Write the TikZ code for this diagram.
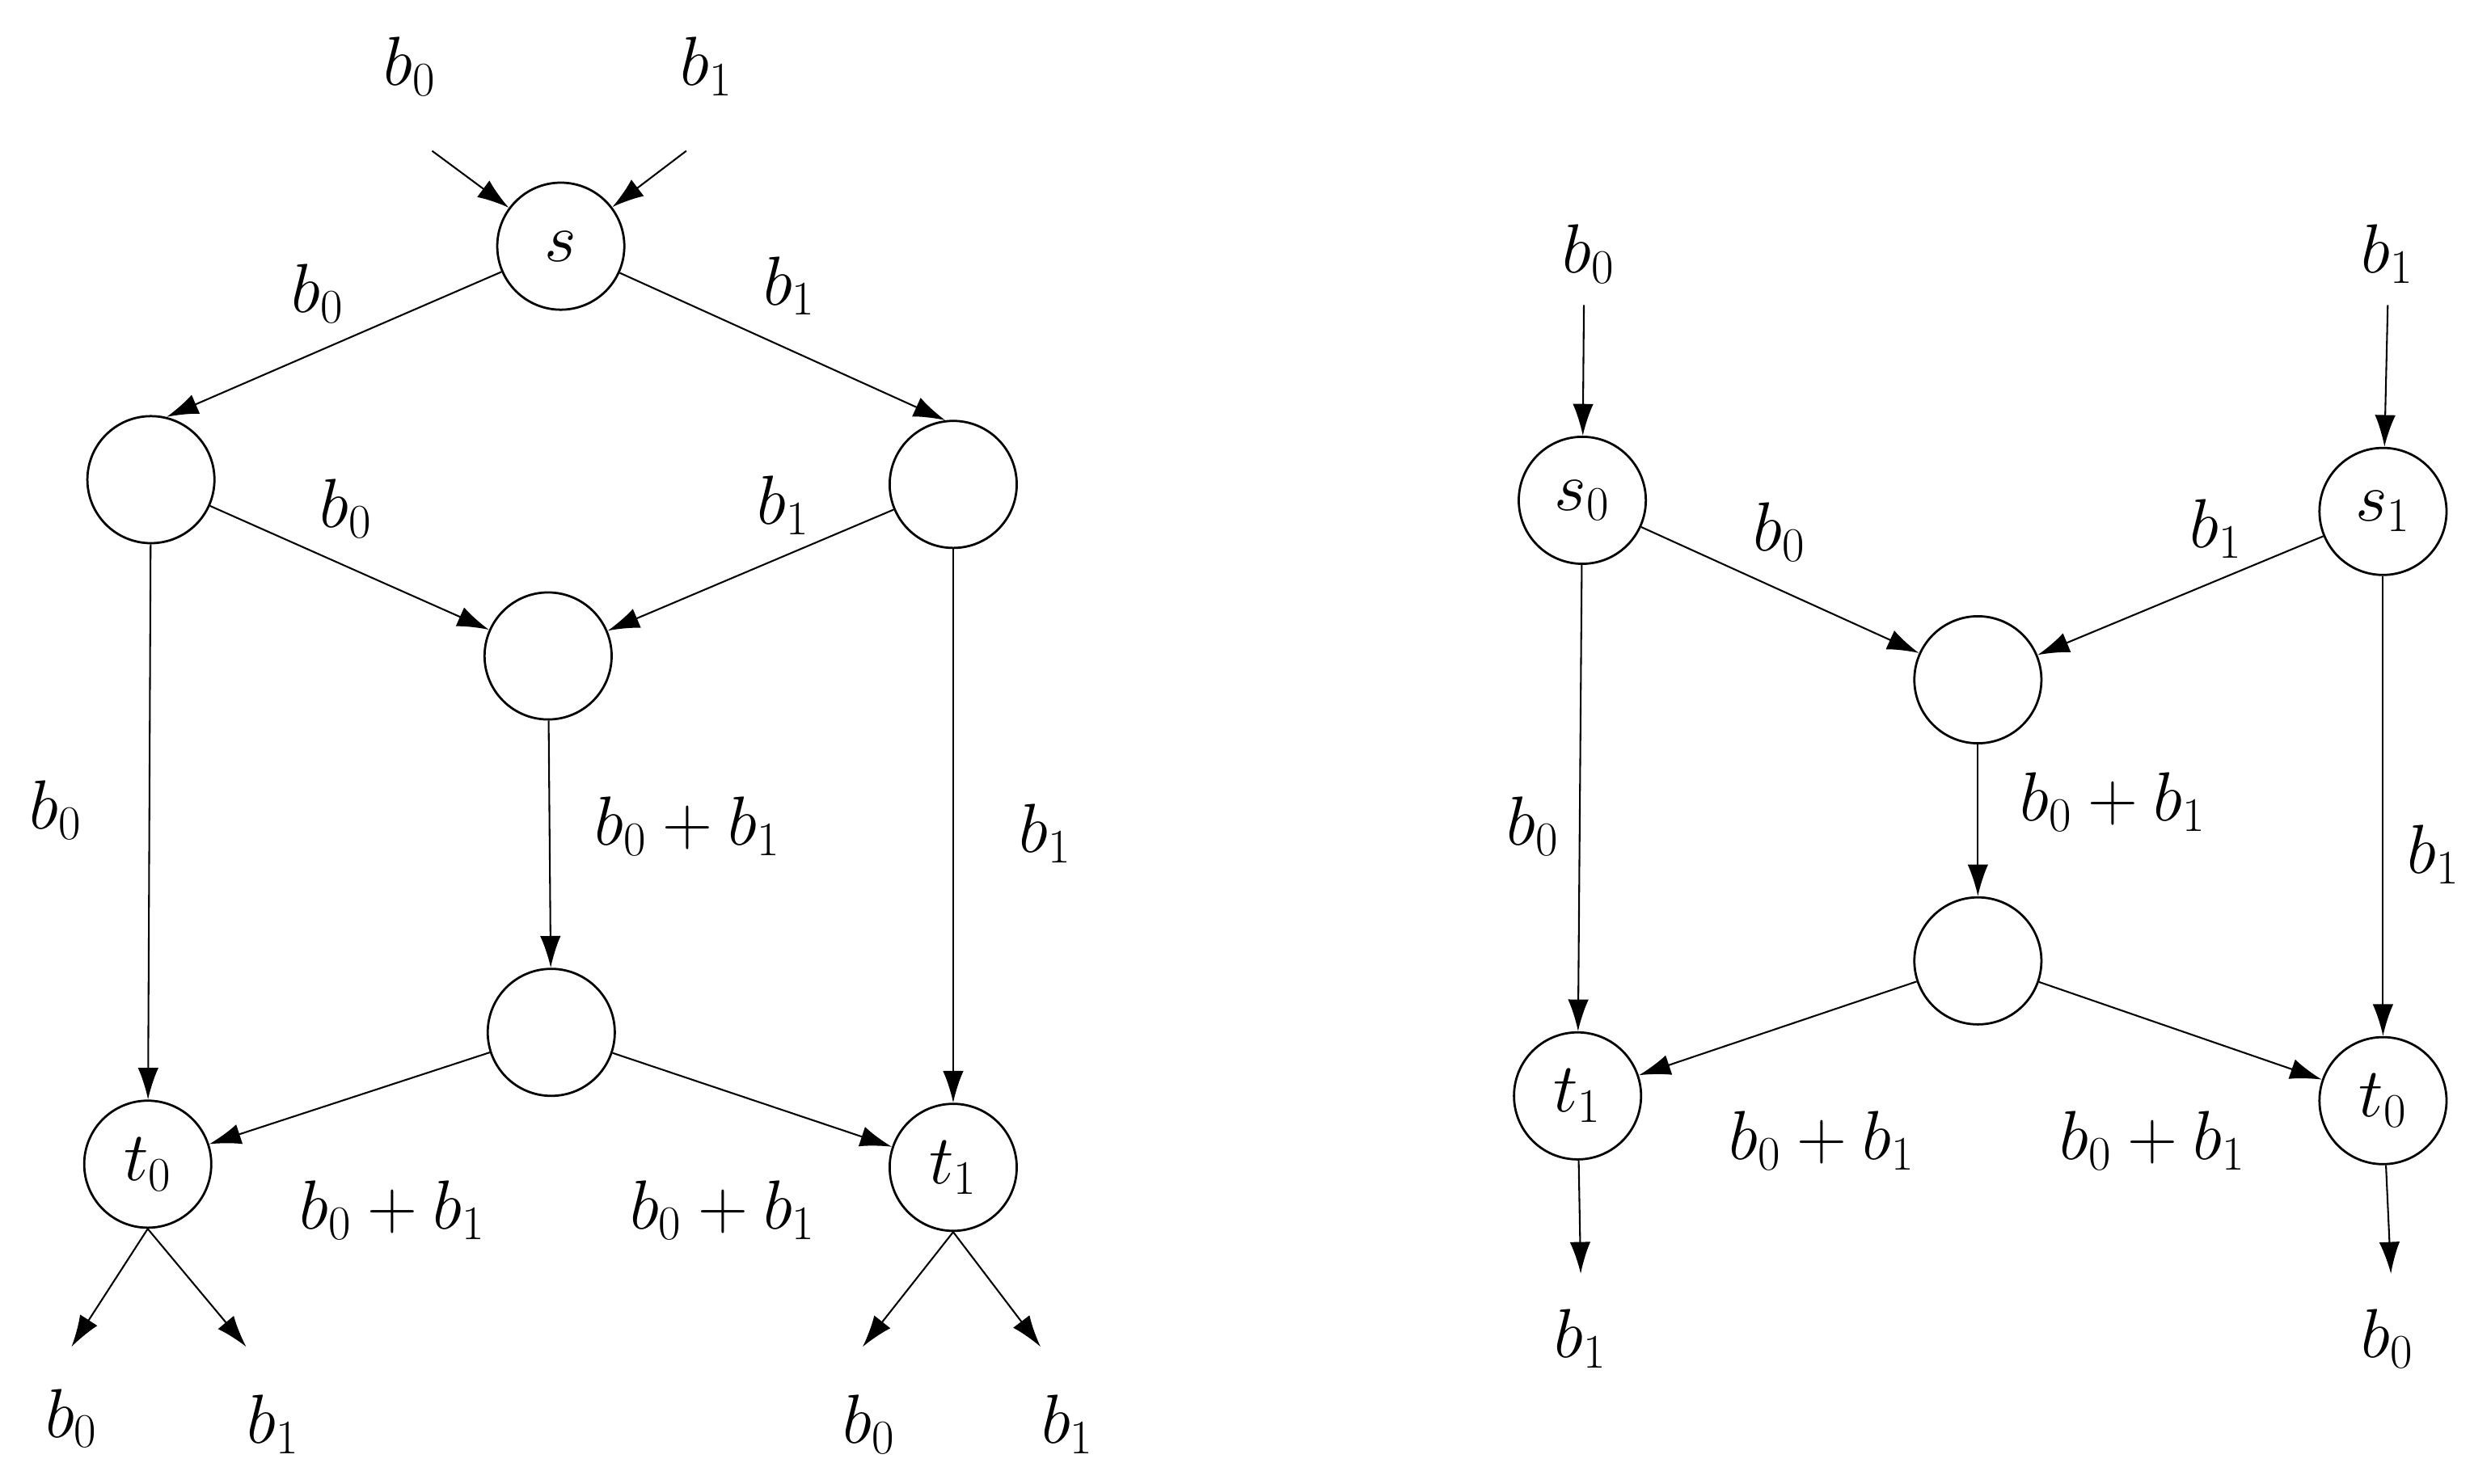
\documentclass[tikz,border=0pt]{standalone}
\usetikzlibrary{arrows.meta}
\begin{document}
\begin{tikzpicture}[x=0.02cm,y=-0.02cm,
  nd/.style={circle,draw,thick,minimum size=1.6cm,inner sep=0pt,font=\fontsize{24}{28}\selectfont},
  lb/.style={font=\fontsize{24}{28}\selectfont},
  ar/.style={-{Latex[length=4mm,width=2.6mm]},line width=0.6pt}]
\useasboundingbox (0,0) rectangle (1568,934);
% left
\node[nd] (s) at (353,155) {$s$};
\node[nd] (A) at (95,302) {};
\node[nd] (B) at (600,305) {};
\node[nd] (M1) at (345,413) {};
\node[nd] (M2) at (347,650) {};
\node[nd] (t0) at (93,733) {$t_0$};
\node[nd] (t1) at (600,735) {$t_1$};
\node[lb] (ib0) at (258,42) {$b_0$};
\node[lb] (ib1) at (445,42) {$b_1$};
\coordinate (p1) at (272,95); \coordinate (p2) at (432,95);
\draw[ar] (p1) -- (s); \draw[ar] (p2) -- (s);
\draw[ar] (s) -- (A.76); \draw[ar] (s) -- (B.97);
\draw[ar] (A) -- (M1); \draw[ar] (B) -- (M1);
\draw[ar] (A) -- (t0); \draw[ar] (B) -- (t1);
\draw[ar] (M1) -- (M2);
\draw[ar] (M2) -- (t0); \draw[ar] (M2) -- (t1);
\coordinate (q1) at (45,848); \coordinate (q2) at (155,848);
\coordinate (q3) at (543,848); \coordinate (q4) at (655,848);
\draw[ar] (t0.south) -- (q1); \draw[ar] (t0.south) -- (q2);
\draw[ar] (t1.south) -- (q3); \draw[ar] (t1.south) -- (q4);
\node[lb] (l1) at (200,185) {$b_0$};
\node[lb] (l2) at (497,180) {$b_1$};
\node[lb] (l3) at (218,320) {$b_0$};
\node[lb] (l4) at (493,318) {$b_1$};
\node[lb] (l5) at (35,510) {$b_0$};
\node[lb] (l6) at (658,525) {$b_1$};
\node[lb] (l7) at (433,520) {$b_0+b_1$};
\node[lb] (l8) at (247,762) {$b_0+b_1$};
\node[lb] (l9) at (455,762) {$b_0+b_1$};
\node[lb] (o1) at (45,893) {$b_0$};
\node[lb] (o2) at (172,897) {$b_1$};
\node[lb] (o3) at (547,897) {$b_0$};
\node[lb] (o4) at (672,897) {$b_1$};
% right
\node[nd] (s0) at (996,315) {$s_0$};
\node[nd] (s1) at (1500,322) {$s_1$};
\node[nd] (N1) at (1245,428) {};
\node[nd] (N2) at (1245,605) {};
\node[nd] (u1) at (993,690) {$t_1$};
\node[nd] (u0) at (1500,693) {$t_0$};
\node[lb] (jb0) at (1000,160) {$b_0$};
\node[lb] (jb1) at (1503,160) {$b_1$};
\coordinate (r1) at (997,192); \coordinate (r2) at (1503,192);
\draw[ar] (r1) -- (s0); \draw[ar] (r2) -- (s1);
\draw[ar] (s0) -- (N1); \draw[ar] (s1) -- (N1);
\draw[ar] (s0) -- (u1); \draw[ar] (s1) -- (u0);
\draw[ar] (N1) -- (N2);
\draw[ar] (N2) -- (u1); \draw[ar] (N2) -- (u0);
\coordinate (r3) at (995,802); \coordinate (r4) at (1505,802);
\draw[ar] (u1) -- (r3); \draw[ar] (u0) -- (r4);
\node[lb] (m1) at (1120,335) {$b_0$};
\node[lb] (m2) at (1395,333) {$b_1$};
\node[lb] (m3) at (965,520) {$b_0$};
\node[lb] (m4) at (1532,538) {$b_1$};
\node[lb] (m5) at (1330,505) {$b_0+b_1$};
\node[lb] (m6) at (1147,718) {$b_0+b_1$};
\node[lb] (m7) at (1355,718) {$b_0+b_1$};
\node[lb] (m8) at (995,843) {$b_1$};
\node[lb] (m9) at (1503,843) {$b_0$};
\end{tikzpicture}
\end{document}
